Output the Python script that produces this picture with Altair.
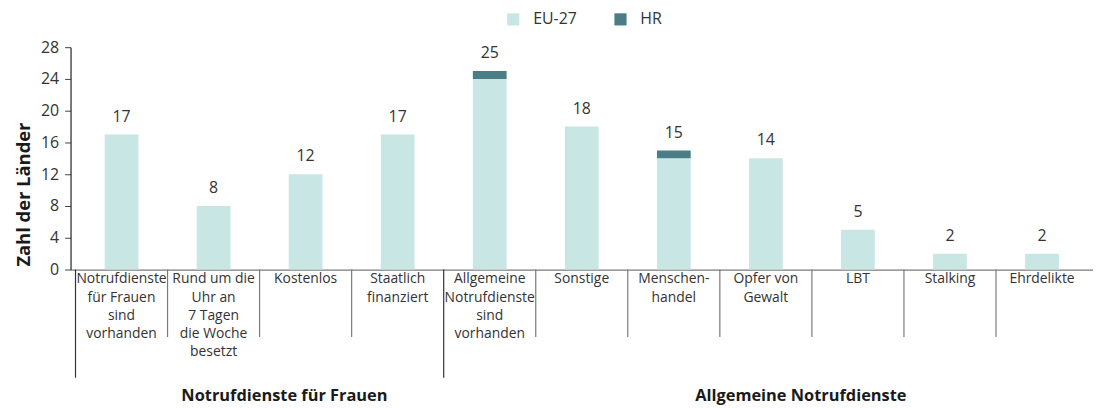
import altair as alt
import pandas as pd

categories = [
    "Notrufdienste\nfür Frauen\nsind\nvorhanden",
    "Rund um die\nUhr an\n7 Tagen\ndie Woche\nbesetzt",
    "Kostenlos",
    "Staatlich\nfinanziert",
    "Allgemeine\nNotrufdienste\nsind\nvorhanden",
    "Sonstige",
    "Menschen-\nhandel",
    "Opfer von\nGewalt",
    "LBT",
    "Stalking",
    "Ehrdelikte",
]
eu27 = [17, 8, 12, 17, 24, 18, 14, 14, 5, 2, 2]
hr = [0, 0, 0, 0, 1, 0, 1, 0, 0, 0, 0]
groups = ["Notrufdienste für Frauen", "Allgemeine Notrufdienste"]
group_start = [0, 4]
group_label_center = [2.27, 7.88]
y_ticks = [0, 4, 8, 12, 16, 20, 24, 28]

FONT = "Open Sans"
TXT = "#333333"
n = len(categories)

rows = []
for i, c in enumerate(categories):
    rows.append({"idx": i + 0.5, "cat": c, "series": "EU-27", "value": eu27[i], "ord": 0})
    rows.append({"idx": i + 0.5, "cat": c, "series": "HR", "value": hr[i], "ord": 1})
long_df = pd.DataFrame(rows)

tot_df = pd.DataFrame({
    "idx": [i + 0.5 for i in range(n)],
    "cat": categories,
    "total": [a + b for a, b in zip(eu27, hr)],
})

inner_df = pd.DataFrame({"b": [b for b in range(1, n) if b not in group_start]})
outer_df = pd.DataFrame({"b": group_start})
grp_df = pd.DataFrame({"g": groups, "mid": group_label_center})

xscale = alt.Scale(domain=[0, n], nice=False, zero=False)
yscale = alt.Scale(domain=[0, 28], nice=False)

xaxis = alt.Axis(labels=False, ticks=False, grid=False, title=None,
                 domainColor="#7a7a7a", domainWidth=1.2)
yaxis = alt.Axis(values=y_ticks, grid=False, tickSize=6,
                 tickColor="#444", domainColor="#222", domainWidth=1.2,
                 labelFontSize=16, labelFont=FONT, labelColor=TXT,
                 labelPadding=6, labelOverlap=False, labelBound=False,
                 title="Zahl der Länder", titleFont=FONT, titleFontSize=18.5,
                 titleFontWeight="bold", titleColor="#1a1a1a",
                 titleX=-47, titleY=148, titleAlign="center",
                 titleBaseline="middle", titleAngle=270)

H = 224

bars = alt.Chart(long_df).mark_bar(width=34).encode(
    x=alt.X("idx:Q", scale=xscale, axis=xaxis),
    y=alt.Y("value:Q", stack="zero", scale=yscale, axis=yaxis),
    color=alt.Color("series:N",
                    scale=alt.Scale(domain=["EU-27", "HR"], range=["#c8e6e4", "#4a7d86"]),
                    legend=alt.Legend(title=None, orient="none", legendX=438, legendY=-36,
                                      direction="horizontal", symbolType="square",
                                      symbolSize=150, symbolStrokeWidth=0,
                                      labelFontSize=16, labelFont=FONT, labelColor=TXT,
                                      labelOffset=12, columnPadding=36, padding=0)),
    order=alt.Order("ord:Q"),
)

vals = alt.Chart(tot_df).mark_text(fontSize=16, font=FONT, color=TXT, dy=-18,
                                   baseline="middle").encode(
    x=alt.X("idx:Q", scale=xscale, axis=xaxis),
    y=alt.Y("total:Q", scale=yscale, axis=yaxis),
    text="total:Q",
)

cat_labels = alt.Chart(tot_df).mark_text(fontSize=14, font=FONT, color=TXT,
                                         baseline="top", lineBreak="\n",
                                         lineHeight=18.3).encode(
    x=alt.X("idx:Q", scale=xscale, axis=xaxis),
    y=alt.value(H + 3),
    text="cat:N",
)

inner_rules = alt.Chart(inner_df).mark_rule(color="#7a7a7a", strokeWidth=1.2).encode(
    x=alt.X("b:Q", scale=xscale, axis=xaxis),
    y=alt.value(H),
    y2=alt.value(H + 68),
)

outer_rules = alt.Chart(outer_df).mark_rule(color="#333", strokeWidth=1.2).encode(
    x=alt.X("b:Q", scale=xscale, axis=xaxis),
    y=alt.value(H),
    y2=alt.value(H + 109),
)

grp_labels = alt.Chart(grp_df).mark_text(fontSize=16.5, font=FONT, fontWeight="bold",
                                         color="#1a1a1a", baseline="middle").encode(
    x=alt.X("mid:Q", scale=xscale, axis=xaxis),
    y=alt.value(H + 127),
    text="g:N",
)

chart = alt.layer(bars, vals, cat_labels, inner_rules, outer_rules, grp_labels).properties(
    width=1030, height=H,
    autosize=alt.AutoSizeParams(type="none"),
    padding={"left": 63, "top": 38, "right": 0, "bottom": 136},
).configure_view(stroke=None)

chart.save("out.html", embed_options={"renderer": "svg", "actions": False})
